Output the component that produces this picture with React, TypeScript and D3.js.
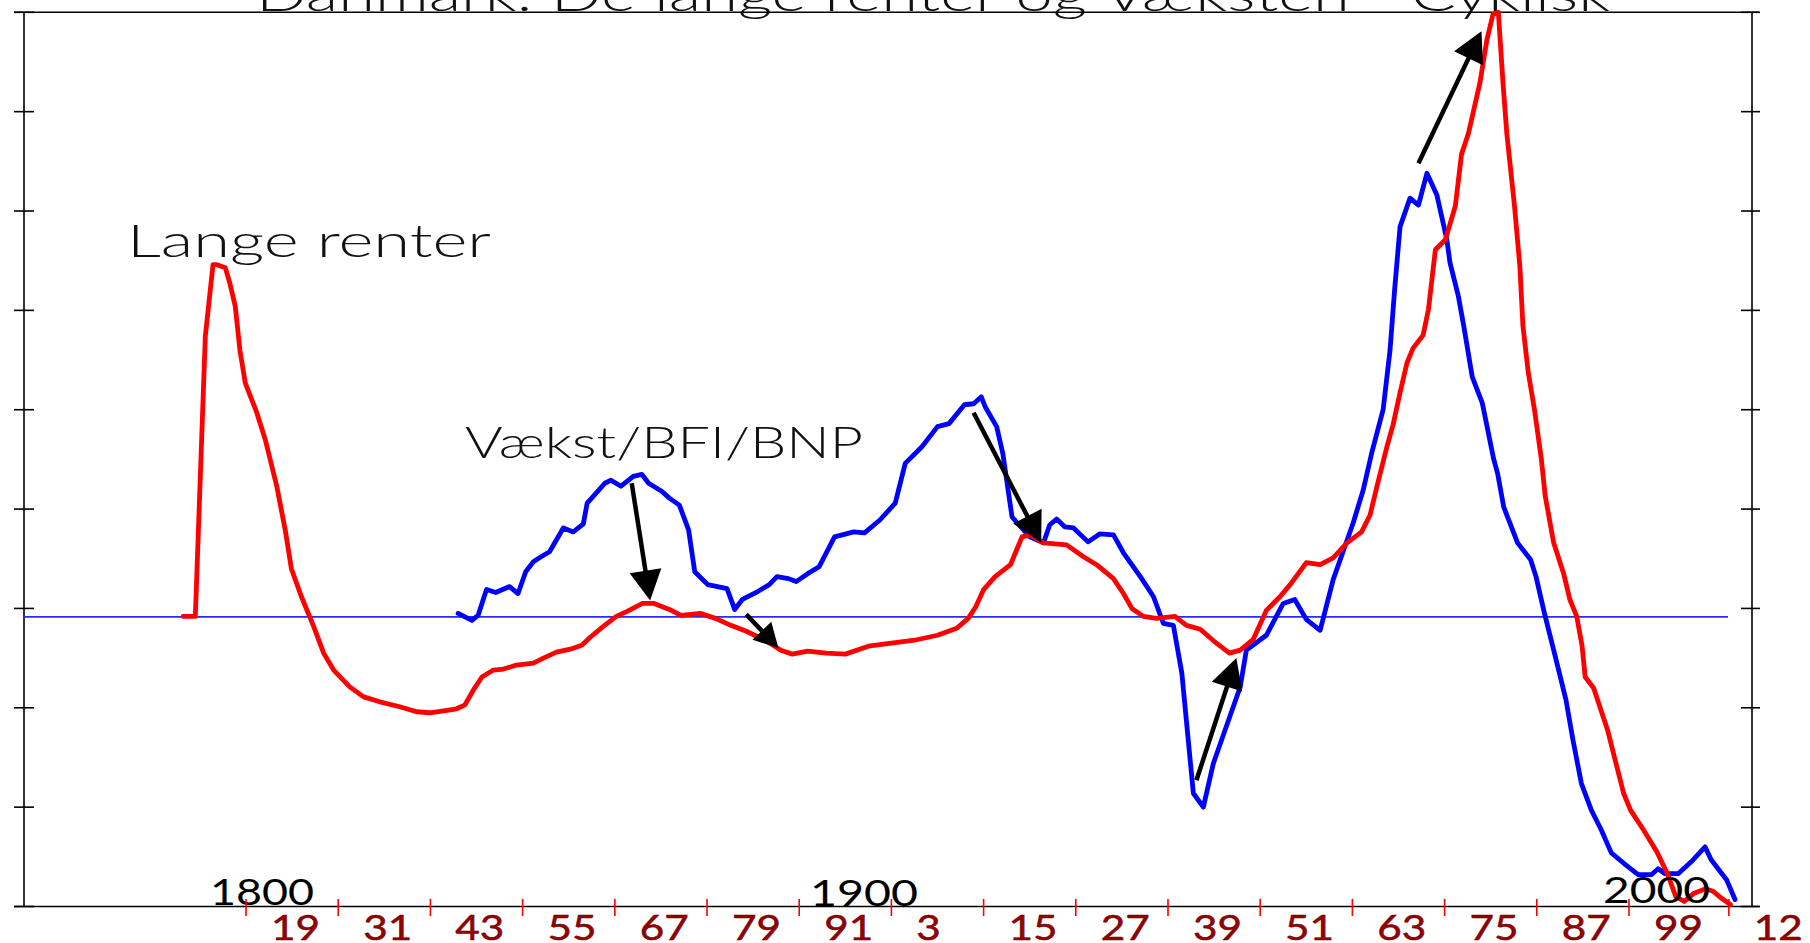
import React from "react";
import * as d3 from "d3";

// ---- data ----
const redYears = [1804.3,1805.9,1807.2,1808.2,1808.7,1809.8,1810.4,1811.1,1811.7,1812.4,
1813.0,1813.9,1815.0,1816.5,1817.6,1818.4,1819.7,1821.3,1822.6,1823.9,
1826.0,1827.8,1829.9,1832.5,1834.7,1836.4,1838.2,1839.9,1841.0,1842.1,
1843.2,1844.7,1846.0,1847.7,1849.9,1851.2,1852.9,1854.7,1856.2,1857.3,
1859.0,1860.7,1862.1,1864.1,1865.6,1867.6,1869.1,1871.6,1873.6,1875.6,
1877.6,1880.1,1882.1,1883.6,1885.6,1888.0,1890.5,1893.5,1896.5,1899.5,
1902.5,1905.0,1906.5,1907.5,1908.5,1910.0,1912.0,1913.5,1914.5,1916.3,
1919.3,1921.5,1923.2,1925.4,1926.7,1927.8,1929.3,1931.0,1933.4,1934.9,
1936.7,1938.8,1940.5,1941.9,1943.6,1945.3,1947.1,1948.4,1950.5,1952.3,
1954.0,1955.8,1957.7,1958.8,1959.7,1961.0,1961.8,1962.7,1963.6,1964.4,
1965.7,1966.4,1967.3,1968.6,1969.9,1970.7,1971.6,1973.1,1974.0,1974.8,
1975.5,1976.1,1976.6,1977.6,1978.3,1978.7,1979.4,1980.2,1981.1,1981.6,
1982.7,1984.0,1984.8,1985.7,1986.4,1986.8,1987.9,1989.7,1991.8,1992.7,
1994.4,1996.2,1997.5,1998.6,1999.7,2000.9,2002.5,2003.5,2004.6,2005.7];
const redValues = [29.2,29.2,57.4,64.6,64.6,64.3,62.7,60.4,56.0,52.7,
51.5,49.7,47.0,42.3,37.9,34.0,31.2,28.2,25.5,23.8,
22.1,21.1,20.6,20.1,19.6,19.5,19.7,19.9,20.3,21.8,
23.1,23.8,23.9,24.3,24.5,25.0,25.6,25.9,26.3,27.1,
28.2,29.2,29.7,30.5,30.5,29.9,29.3,29.5,29.0,28.3,
27.7,26.8,25.8,25.4,25.7,25.5,25.4,26.2,26.5,26.8,
27.3,28.0,29.0,30.2,31.9,33.2,34.4,37.2,37.4,36.6,
36.4,35.2,34.4,33.0,31.5,30.0,29.2,29.0,29.2,28.3,
27.9,26.5,25.5,25.8,26.9,29.8,31.2,32.4,34.6,34.4,
35.1,36.6,37.7,39.4,42.3,46.3,48.5,51.7,54.7,56.2,
57.5,60.1,66.1,67.1,70.5,75.7,77.8,82.9,87.2,89.8,
90.0,82.9,77.8,70.5,64.4,58.4,53.7,50.0,45.0,41.3,
36.6,33.5,30.9,29.2,26.2,23.1,22.0,17.8,11.4,9.7,
7.7,5.4,3.3,1.0,0.5,1.3,1.8,1.5,0.8,0.2];

const blueYears = [1840.1,1841.9,1842.7,1843.8,1845.0,1846.8,1847.9,1848.9,1849.9,1850.9,
1852.0,1853.8,1855.1,1856.4,1856.9,1858.3,1859.2,1860.0,1861.3,1862.9,
1864.0,1864.9,1866.6,1867.6,1868.9,1870.1,1870.9,1872.6,1875.1,1876.1,
1877.1,1879.1,1880.6,1881.6,1883.1,1884.1,1885.6,1887.1,1889.1,1891.6,
1893.0,1895.0,1897.0,1898.3,1900.5,1902.5,1904.0,1906.0,1907.2,1908.2,
1908.7,1910.2,1911.0,1912.2,1914.5,1916.3,1917.1,1918.0,1919.1,1920.2,
1922.1,1923.6,1925.4,1926.7,1928.9,1930.6,1931.9,1933.2,1934.3,1935.8,
1937.1,1938.4,1941.9,1942.7,1945.3,1947.5,1949.0,1950.5,1952.3,1954.0,
1956.6,1957.9,1959.0,1960.5,1961.4,1962.0,1962.7,1964.0,1965.1,1966.2,
1967.5,1968.8,1969.2,1970.3,1971.0,1972.1,1973.4,1974.9,1975.4,1976.2,
1978.0,1979.7,1980.4,1981.5,1982.8,1984.3,1985.2,1986.3,1987.6,1988.9,
1990.2,1991.9,1993.7,1995.4,1996.3,1997.2,1998.9,2000.6,2002.4,2003.2,
2005.2,2006.3];
const blueValues = [29.5,28.8,29.3,31.9,31.6,32.2,31.5,33.7,34.7,35.2,
35.7,38.1,37.7,38.5,40.6,41.8,42.6,42.9,42.3,43.3,
43.5,42.6,41.8,41.1,40.4,37.9,33.7,32.4,32.0,29.9,
30.9,31.7,32.4,33.2,33.0,32.7,33.5,34.2,37.2,37.7,
37.6,38.9,40.6,44.6,46.3,48.3,48.6,50.5,50.6,51.3,
50.3,48.3,45.6,39.2,37.2,36.6,38.4,39.0,38.2,38.1,
36.7,37.5,37.4,35.6,33.2,31.2,28.5,28.3,23.5,11.4,
10.0,14.4,22.1,25.8,27.3,30.5,30.9,28.9,27.8,32.9,
38.6,41.9,45.6,50.0,56.0,62.1,68.4,71.3,70.6,73.8,
71.6,67.1,64.8,61.4,58.4,53.3,50.7,45.0,43.6,40.2,
36.6,34.9,33.2,29.5,25.5,20.8,16.8,12.4,9.7,7.7,
5.4,4.3,3.2,3.2,3.8,3.3,3.3,4.5,6.0,4.7,
2.7,0.7];

const valueTicks = [0, 10, 20, 30, 40, 50, 60, 70, 80, 90];
const yearTickMarks = [1812.5,1824.5,1836.5,1848.5,1860.5,1872.5,1884.5,1896.5,
  1908.5,1920.5,1932.5,1944.5,1956.5,1968.5,1980.5,1992.5,2005.5];
const yearTickLabels = ["19","31","43","55","67","79","91","3","15","27","39","51","63","75","87","99","12"];
const yearLabelYears = [1819,1831,1843,1855,1867,1879,1891,1903,1915,1927,1939,1951,1963,1975,1987,1999,2012];
const centuryLabels = ["1800", "1900", "2000"];
const baselineValue = 29.15;

const arrowFromYears = [1862.7, 1877.6, 1907.2, 1936.2, 1965.1];
const arrowFromValues = [42.6, 29.4, 49.7, 12.7, 74.8];
const arrowToYears = [1865.1, 1881.8, 1916.0, 1941.4, 1973.3];
const arrowToValues = [30.8, 26.0, 36.6, 25.0, 88.1];

const titleText = "Danmark: De lange renter og Væksten - Cyklisk";
const seriesLabelRed = "Lange renter";
const seriesLabelBlue = "Vækst/BFI/BNP";

// ---- layout ----
const W = 1810;
const H = 943;
const FONT = "Lato, 'DejaVu Sans', sans-serif";

export default function App() {
  const x = d3.scaleLinear().domain([1800, 2000]).range([150, 1686.6]);
  const y = d3.scaleLinear().domain([0, 90]).range([906.5, 12.3]);

  const line = d3
    .line<[number, number]>()
    .x((d) => x(d[0]))
    .y((d) => y(d[1]));

  const redPts: [number, number][] = redYears.map((yr, i) => [yr, redValues[i]]);
  const bluePts: [number, number][] = blueYears.map((yr, i) => [yr, blueValues[i]]);

  const axisLeft = 24;
  const axisRight = 1752;
  const yTop = y(90);
  const yBot = y(0);

  const arrows = arrowFromYears.map((_, i) => {
    const x0 = x(arrowFromYears[i]);
    const y0 = y(arrowFromValues[i]);
    const x1 = x(arrowToYears[i]);
    const y1 = y(arrowToValues[i]);
    const dx = x1 - x0;
    const dy = y1 - y0;
    const len = Math.hypot(dx, dy);
    const ux = dx / len;
    const uy = dy / len;
    const hl = i === 1 ? 24 : 30;
    const hw = i === 1 ? 13 : 16;
    const bx = x1 - ux * hl;
    const by = y1 - uy * hl;
    const head = `${x1},${y1} ${bx - uy * hw},${by + ux * hw} ${bx + uy * hw},${by - ux * hw}`;
    return { x0, y0, bx: x1 - ux * (hl - 4), by: y1 - uy * (hl - 4), head };
  });

  const centuryPos = [
    { x: 210, y: 905, w: 104 },
    { x: 810, y: 906, w: 108 },
    { x: 1603, y: 903, w: 107 },
  ];

  return (
    <svg
      width={W}
      height={H}
      style={{ position: "absolute", left: 0, top: 0, background: "#fff" }}
      fontFamily={FONT}
    >
      <rect x={0} y={0} width={W} height={H} fill="#fff" />
      {/* title (clipped at top) */}
      <text x={256} y={11} fontSize={46} fontWeight={300} fill="#111" textLength={1354} lengthAdjust="spacingAndGlyphs">
        {titleText}
      </text>

      {/* frame */}
      <line x1={14} x2={1759} y1={yTop} y2={yTop} stroke="#000" strokeWidth={1.6} />
      <line x1={14} x2={1759} y1={yBot} y2={yBot} stroke="#000" strokeWidth={1.6} />
      <line x1={axisLeft} x2={axisLeft} y1={yTop} y2={yBot} stroke="#000" strokeWidth={1.6} />
      <line x1={axisRight} x2={axisRight} y1={yTop} y2={yBot} stroke="#000" strokeWidth={1.6} />
      {valueTicks.map((v) => (
        <g key={v}>
          <line x1={14} x2={34} y1={y(v)} y2={y(v)} stroke="#000" strokeWidth={1.6} />
          <line x1={1741} x2={1760} y1={y(v)} y2={y(v)} stroke="#000" strokeWidth={1.6} />
        </g>
      ))}

      {/* baseline */}
      <line x1={23} x2={1728} y1={y(baselineValue)} y2={y(baselineValue)} stroke="#2a2aff" strokeWidth={1.6} />

      {/* series */}
      <path d={line(bluePts) || ""} fill="none" stroke="#0000ff" strokeWidth={4.8} strokeLinejoin="round" strokeLinecap="round" />
      <path d={line(redPts) || ""} fill="none" stroke="#ff0000" strokeWidth={4.8} strokeLinejoin="round" strokeLinecap="round" />

      {/* arrows */}
      {arrows.map((a, i) => (
        <g key={i}>
          <line x1={a.x0} y1={a.y0} x2={a.bx} y2={a.by} stroke="#000" strokeWidth={4.5} />
          <polygon points={a.head} fill="#000" />
        </g>
      ))}

      {/* series labels */}
      <text x={127} y={257} fontSize={46} fontWeight={300} fill="#111" textLength={364} lengthAdjust="spacingAndGlyphs">
        {seriesLabelRed}
      </text>
      <text x={465} y={458} fontSize={44} fontWeight={300} fill="#111" textLength={398} lengthAdjust="spacingAndGlyphs">
        {seriesLabelBlue}
      </text>

      {/* century labels */}
      {centuryLabels.map((t, i) => (
        <text key={t} x={centuryPos[i].x} y={centuryPos[i].y} fontSize={37} fontWeight={400} fill="#000" textLength={centuryPos[i].w} lengthAdjust="spacingAndGlyphs">
          {t}
        </text>
      ))}

      {/* red year ticks and labels */}
      {yearTickMarks.map((yr) => (
        <line key={yr} x1={x(yr)} x2={x(yr)} y1={899} y2={916} stroke="#ff0000" strokeWidth={1.6} />
      ))}
      {yearTickLabels.map((t, i) => (
        <text
          key={t + i}
          x={x(yearLabelYears[i]) - 25}
          y={940}
          fontSize={34}
          fill="#9a0000"
          stroke="#5a0000"
          strokeWidth={0.5}
          textLength={24.5 * t.length}
          lengthAdjust="spacingAndGlyphs"
        >
          {t}
        </text>
      ))}
    </svg>
  );
}
